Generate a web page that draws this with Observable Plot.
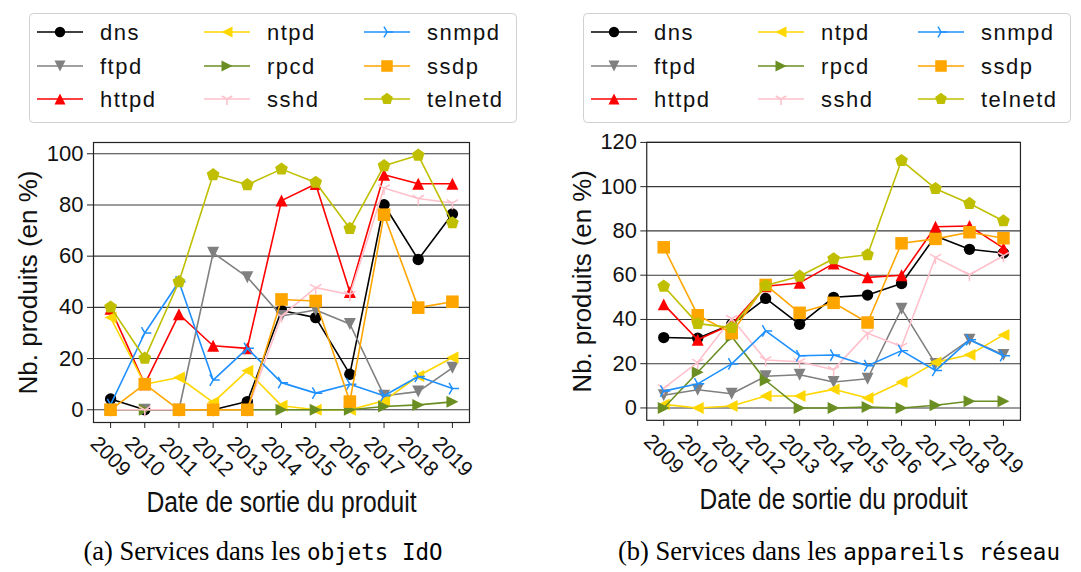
<!DOCTYPE html>
<html><head><meta charset="utf-8">
<script src="https://cdn.jsdelivr.net/npm/d3@7"></script>
<script src="https://cdn.jsdelivr.net/npm/@observablehq/plot@0.6"></script>
<style>
body{margin:0;background:#fff;width:1081px;height:572px;position:relative;overflow:hidden;font-family:"Liberation Sans",Arial,sans-serif;}
.abs{position:absolute;}
.caption{position:absolute;top:536px;font-family:"Liberation Serif","DejaVu Serif",serif;font-size:26.5px;white-space:nowrap;transform:translateX(-50%);color:#000;}
.caption span{font-family:"DejaVu Sans Mono","Liberation Mono",monospace;font-size:22.5px;}
</style></head><body>
<div id="legA" class="abs" style="left:29px;top:13px"></div>
<div id="legB" class="abs" style="left:583px;top:13px"></div>
<div id="chartA" class="abs" style="left:0px;top:130px"></div>
<div id="chartB" class="abs" style="left:545px;top:130px"></div>
<div class="caption" style="left:263px">(a) Services dans les <span>objets IdO</span></div>
<div class="caption" style="left:839px">(b) Services dans les <span>appareils réseau</span></div>
<script>
// ---- data ----
const years = [2009, 2010, 2011, 2012, 2013, 2014, 2015, 2016, 2017, 2018, 2019];
const serviceNames = ["dns", "ftpd", "httpd", "ntpd", "rpcd", "sshd", "snmpd", "ssdp", "telnetd"];
const legendLabels = ["dns", "ftpd", "httpd", "ntpd", "rpcd", "sshd", "snmpd", "ssdp", "telnetd"];
const yTicksA = [0, 20, 40, 60, 80, 100];
const yTicksB = [0, 20, 40, 60, 80, 100, 120];
const yLabel = "Nb. produits (en %)";
const xLabel = "Date de sortie du produit";

// (a) objets IdO
const iot_dns     = [4.2, 0, 0, 0, 3.2, 38.8, 36, 13.9, 80.1, 58.7, 76.5];
const iot_ftpd    = [0, 0, 0, 61.3, 51.8, 36.6, 39, 33.5, 5.5, 7.1, 16.4];
const iot_httpd   = [39.5, 10, 37.3, 25, 24, 81.7, 88.2, 46, 91.8, 88.3, 88.3];
const iot_ntpd    = [36, 10, 12.6, 2.9, 15.2, 1.6, 0, 0, 3.5, 13.2, 20.4];
const iot_rpcd    = [0, 0, 0, 0, 0, 0, 0, 0, 1.3, 1.9, 3.1];
const iot_sshd    = [0, 0, 0, 0, 0, 36.6, 47.7, 45, 86.6, 82.5, 80.8];
const iot_snmpd   = [2, 30, 50, 11.6, 24, 10.6, 6.5, 10, 5.5, 13, 8.3];
const iot_ssdp    = [0, 10, 0, 0, 0, 43.1, 42.5, 3.2, 76.2, 39.9, 42.2];
const iot_telnetd = [40.1, 20.1, 50, 91.8, 87.9, 94, 88.8, 70.8, 95.3, 99.4, 73];

// (b) appareils réseau
const net_dns     = [31.8, 31.5, 37.8, 49.5, 37.8, 50, 51, 56.2, 77.7, 71.7, 70];
const net_ftpd    = [5.7, 8.2, 6.4, 14.3, 15, 11.7, 13.2, 44.8, 19.9, 30.8, 24];
const net_httpd   = [46.8, 30.8, 37.8, 55, 56.5, 65.2, 59, 60, 81.9, 82.2, 72.2];
const net_ntpd    = [1.6, 0, 0.9, 5.4, 5.4, 8.4, 4.5, 11.7, 20.6, 24, 33];
const net_rpcd    = [0, 16.1, 32.3, 12.4, 0, 0, 0.4, 0, 1.2, 3, 3];
const net_sshd    = [9, 20.6, 40.4, 21.7, 20.9, 17.3, 33.8, 27.8, 68, 60.2, 68.8];
const net_snmpd   = [7.6, 10.9, 19.9, 34.8, 23.6, 23.9, 19.1, 25.9, 16.9, 30.8, 23.6];
const net_ssdp    = [72.6, 41.9, 33.8, 55.6, 43, 47.5, 38.6, 74.4, 76.4, 79.4, 76.7];
const net_telnetd = [55, 38.1, 36.3, 55.3, 59.5, 67.4, 69.2, 111.8, 99.1, 92.4, 84.5];

// ---- styles ----
const colors  = ["#000000", "#808080", "#ff0000", "#ffd700", "#6b8e23", "#ffc0cb", "#1e90ff", "#ffa500", "#bfbf00"];
const markers = ["circle", "triDown", "triUp", "triLeft", "triRight", "spokeDown", "spokeRight", "square", "pentagon"];
const hollow  = [false, false, false, false, false, true, true, false, false];

const S = size => Math.sqrt(size / Math.PI);
const sym = {
  circle:   {draw(c, z){const s = S(z) * 0.95; c.moveTo(s, 0); c.arc(0, 0, s, 0, 2 * Math.PI); c.closePath();}},
  triUp:    {draw(c, z){const s = S(z); c.moveTo(0, -s); c.lineTo(s, s); c.lineTo(-s, s); c.closePath();}},
  triDown:  {draw(c, z){const s = S(z); c.moveTo(0, s); c.lineTo(s, -s); c.lineTo(-s, -s); c.closePath();}},
  triLeft:  {draw(c, z){const s = S(z); c.moveTo(-s, 0); c.lineTo(s, -s); c.lineTo(s, s); c.closePath();}},
  triRight: {draw(c, z){const s = S(z); c.moveTo(s, 0); c.lineTo(-s, -s); c.lineTo(-s, s); c.closePath();}},
  square:   {draw(c, z){const s = S(z) * 1.05; c.moveTo(-s, -s); c.lineTo(s, -s); c.lineTo(s, s); c.lineTo(-s, s); c.closePath();}},
  pentagon: {draw(c, z){const s = S(z) * 1.12; for (let k = 0; k < 5; k++){const a = -Math.PI/2 + k*2*Math.PI/5; const px = s*Math.cos(a), py = s*Math.sin(a); if (k===0) c.moveTo(px, py); else c.lineTo(px, py);} c.closePath();}},
  spokeDown:  {draw(c, z){const s = S(z) * 1.1; c.moveTo(0,0); c.lineTo(0, s); c.moveTo(0,0); c.lineTo(-0.87*s, -0.5*s); c.moveTo(0,0); c.lineTo(0.87*s, -0.5*s);}},
  spokeRight: {draw(c, z){const s = S(z) * 1.1; c.moveTo(0,0); c.lineTo(s, 0); c.moveTo(0,0); c.lineTo(-0.5*s, -0.87*s); c.moveTo(0,0); c.lineTo(-0.5*s, 0.87*s);}}
};

const seriesA = [iot_dns, iot_ftpd, iot_httpd, iot_ntpd, iot_rpcd, iot_sshd, iot_snmpd, iot_ssdp, iot_telnetd];
const seriesB = [net_dns, net_ftpd, net_httpd, net_ntpd, net_rpcd, net_sshd, net_snmpd, net_ssdp, net_telnetd];

function chart(series, yDomain, yTicks, ml, mr, ylabDx){
  const marks = [Plot.gridY(yTicks, {stroke: "#3a3a3a", strokeOpacity: 1, strokeWidth: 1.1})];
  series.forEach((vals, i) => {
    const rows = years.map((yr, j) => ({year: yr, value: vals[j], service: serviceNames[i]}));
    marks.push(Plot.line(rows, {x: "year", y: "value", stroke: colors[i], strokeWidth: 1.6}));
    marks.push(Plot.dot(rows, {x: "year", y: "value", symbol: sym[markers[i]], r: 6,
      fill: hollow[i] ? "none" : colors[i], stroke: hollow[i] ? colors[i] : "none", strokeWidth: 1.5}));
  });
  marks.push(Plot.frame({stroke: "#222", strokeWidth: 1.2}));
  marks.push(Plot.axisY(yTicks, {tickSize: 6, tickPadding: 4, label: null, fontSize: 22, stroke: "#222"}));
  marks.push(Plot.axisX(years, {tickSize: 6, tickFormat: () => "", label: null, stroke: "#222"}));
  marks.push(Plot.text(years, {x: d => d, frameAnchor: "bottom", dy: 34, rotate: 45, text: d => String(d),
    fontSize: 21, textAnchor: "middle", lineAnchor: "middle"}));
  marks.push(Plot.text([yLabel], {frameAnchor: "left", dx: ylabDx, rotate: -90, text: d => d,
    fontSize: 26, textAnchor: "middle", lineAnchor: "middle"}));
  marks.push(Plot.text([xLabel], {frameAnchor: "bottom", dy: 80, text: d => d, className: "xlab",
    fontSize: 29, fontFamily: "Liberation Sans Narrow, Liberation Sans, sans-serif", textAnchor: "middle", lineAnchor: "middle"}));
  const svg = Plot.plot({
    width: 540, height: 390,
    marginLeft: ml, marginRight: mr, marginTop: 12, marginBottom: 98,
    style: {fontFamily: "Liberation Sans, Arial, sans-serif", fontSize: "22px", color: "#111", background: "transparent", overflow: "visible"},
    x: {domain: [2008.5, 2019.5], axis: null},
    y: {domain: yDomain, axis: null},
    marks
  });
  svg.querySelectorAll(".xlab text").forEach(t => {
    t.setAttribute("textLength", 270);
    t.setAttribute("lengthAdjust", "spacingAndGlyphs");
  });
  return svg;
}

document.getElementById("chartA").append(chart(seriesA, [-4.97, 104.4], yTicksA, 93, 71, -65));
document.getElementById("chartB").append(chart(seriesB, [-5.6, 120], yTicksB, 102, 61.5, -64));

function legend(el){
  const W = 488, H = 110;
  const svg = d3.select(el).append("svg").attr("width", W).attr("height", H);
  svg.append("rect").attr("x", 0.5).attr("y", 0.5).attr("width", W - 1).attr("height", H - 1)
    .attr("rx", 4).attr("fill", "#fff").attr("stroke", "#d0d0d0");
  const colX = [8, 175, 335], rowY = [19, 53, 86];
  legendLabels.forEach((lab, i) => {
    const col = Math.floor(i / 3), row = i % 3;
    const x0 = colX[col], y0 = rowY[row];
    const g = svg.append("g");
    g.append("line").attr("x1", x0).attr("x2", x0 + 46).attr("y1", y0).attr("y2", y0)
      .attr("stroke", colors[i]).attr("stroke-width", 1.6);
    const p = d3.path();
    sym[markers[i]].draw(p, Math.PI * 5.5 * 5.5);
    g.append("path").attr("d", p.toString()).attr("transform", `translate(${x0 + 23},${y0})`)
      .attr("fill", hollow[i] ? "none" : colors[i]).attr("stroke", hollow[i] ? colors[i] : "none").attr("stroke-width", 1.5);
    g.append("text").attr("x", x0 + 63).attr("y", y0).attr("dy", "0.35em")
      .attr("font-size", 22).attr("letter-spacing", "1.5px").attr("fill", "#111")
      .attr("font-family", "Liberation Sans, Arial, sans-serif").text(lab);
  });
}
legend(document.getElementById("legA"));
legend(document.getElementById("legB"));
</script>
</body></html>
